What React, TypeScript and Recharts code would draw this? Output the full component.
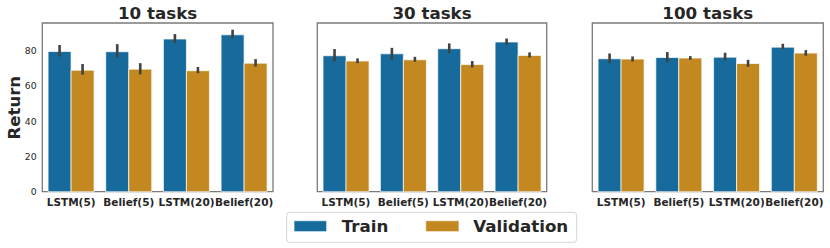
import React from 'react';
import { BarChart, Bar, XAxis, YAxis, ErrorBar, ReferenceArea } from 'recharts';

const categories = ['LSTM(5)', 'Belief(5)', 'LSTM(20)', 'Belief(20)'];
const panelTitles = ['10 tasks', '30 tasks', '100 tasks'];
const seriesNames = ['Train', 'Validation'];
const yTicks = [0, 20, 40, 60, 80];

// 10 tasks
const train10 = [79.6, 79.5, 86.7, 89.1];
const train10Low = [76.8, 76.2, 84.4, 87.0];
const train10High = [83.3, 83.8, 89.5, 92.0];
const val10 = [69.0, 69.6, 68.7, 73.0];
const val10Low = [66.4, 66.6, 67.3, 71.1];
const val10High = [72.5, 73.0, 70.8, 75.3];

// 30 tasks
const train30 = [77.2, 78.3, 81.2, 85.0];
const train30Low = [73.9, 74.9, 78.7, 83.4];
const train30High = [81.0, 81.7, 84.2, 87.0];
const val30 = [74.2, 74.9, 72.2, 77.4];
const val30Low = [73.0, 73.8, 70.5, 76.2];
const val30High = [75.7, 76.6, 74.2, 79.1];

// 100 tasks
const train100 = [75.5, 76.2, 76.4, 82.1];
const train100Low = [73.0, 73.6, 74.5, 81.0];
const train100High = [78.5, 79.3, 78.9, 84.0];
const val100 = [75.3, 75.9, 72.8, 78.7];
const val100Low = [73.9, 74.9, 70.9, 77.2];
const val100High = [76.8, 77.0, 74.9, 80.4];

const BLUE = '#176b9c';
const ORANGE = '#c38920';
const FONT = '"DejaVu Sans", Verdana, sans-serif';
const Y_MAX = 95.8;

function buildRows(tm: number[], tl: number[], th: number[], vm: number[], vl: number[], vh: number[]) {
  return categories.map((c, i) => ({
    cat: c,
    train: tm[i],
    trainErr: [tm[i] - tl[i], th[i] - tm[i]],
    val: vm[i],
    valErr: [vm[i] - vl[i], vh[i] - vm[i]],
  }));
}

const panels = [
  { rows: buildRows(train10, train10Low, train10High, val10, val10Low, val10High), left: 0, width: 280, mLeft: 12.3, mRight: 7, showY: true },
  { rows: buildRows(train30, train30Low, train30High, val30, val30Low, val30High), left: 280, width: 280, mLeft: 37.3, mRight: 13.3, showY: false },
  { rows: buildRows(train100, train100Low, train100High, val100, val100Low, val100High), left: 560, width: 270, mLeft: 32.3, mRight: 6.7, showY: false },
];

const titleCenters = [157.6, 432, 707.8];

function Panel({ p }: { p: typeof panels[number] }) {
  return (
    <div style={{ position: 'absolute', left: p.left, top: 0 }}>
      <BarChart
        width={p.width}
        height={248}
        data={p.rows}
        margin={{ top: 23, bottom: 36.3, left: p.mLeft, right: p.mRight }}
        barCategoryGap="10%"
        barGap={0}
      >
        <XAxis
          dataKey="cat"
          height={20}
          interval={0}
          tickLine={false}
          tickSize={0}
          tickMargin={7}
          axisLine={false}
          tick={{ fontFamily: FONT, fontSize: 10.5, fontWeight: 'bold', fill: '#262626' }}
        />
        <YAxis
          type="number"
          domain={[0, Y_MAX]}
          ticks={yTicks}
          hide={!p.showY}
          width={30}
          tickLine={false}
          tickSize={0}
          tickMargin={5.6}
          axisLine={false}
          tick={{ fontFamily: FONT, fontSize: 9.3, fill: '#262626' }}
        />
        <Bar dataKey="train" fill={BLUE} stroke="#ffffff" strokeOpacity={0.7} strokeWidth={1} isAnimationActive={false}>
          <ErrorBar dataKey="trainErr" width={0} stroke="#424242" strokeWidth={2.6} direction="y" />
        </Bar>
        <Bar dataKey="val" fill={ORANGE} stroke="#ffffff" strokeOpacity={0.7} strokeWidth={1} isAnimationActive={false}>
          <ErrorBar dataKey="valErr" width={0} stroke="#424242" strokeWidth={2.6} direction="y" />
        </Bar>
        <ReferenceArea y1={0} y2={Y_MAX} fill="none" stroke="#7a7a7a" strokeWidth={1.3} ifOverflow="visible" />
      </BarChart>
    </div>
  );
}

export default function App() {
  return (
    <div style={{ position: 'absolute', left: 0, top: 0, width: 830, height: 248, background: '#ffffff', overflow: 'hidden' }}>
      {panels.map((p, i) => (
        <Panel key={i} p={p} />
      ))}
      <svg width={830} height={248} style={{ position: 'absolute', left: 0, top: 0, pointerEvents: 'none' }}>
        {panelTitles.map((t, i) => (
          <text key={t} x={titleCenters[i]} y={18.5} textAnchor="middle" fontFamily={FONT} fontWeight="bold" fontSize={16.7} fill="#262626">
            {t}
          </text>
        ))}
        <text
          x={0}
          y={0}
          transform="translate(19.5,107.7) rotate(-90)"
          textAnchor="middle"
          fontFamily={FONT}
          fontWeight="bold"
          fontSize={16.5}
          fill="#262626"
        >
          Return
        </text>
        <rect x={286.7} y={212.3} width={290} height={30} rx={3} ry={3} fill="#ffffff" stroke="#d6d6d6" strokeWidth={1} />
        <rect x={294} y={220.7} width={32.7} height={11} fill={BLUE} stroke="#ffffff" strokeOpacity={0.7} strokeWidth={1} />
        <text x={341.7} y={231.7} fontFamily={FONT} fontWeight="bold" fontSize={16.7} fill="#262626">
          {seriesNames[0]}
        </text>
        <rect x={425.7} y={220.7} width={33.3} height={11} fill={ORANGE} stroke="#ffffff" strokeOpacity={0.7} strokeWidth={1} />
        <text x={473.3} y={231.7} fontFamily={FONT} fontWeight="bold" fontSize={16.7} fill="#262626">
          {seriesNames[1]}
        </text>
      </svg>
    </div>
  );
}
